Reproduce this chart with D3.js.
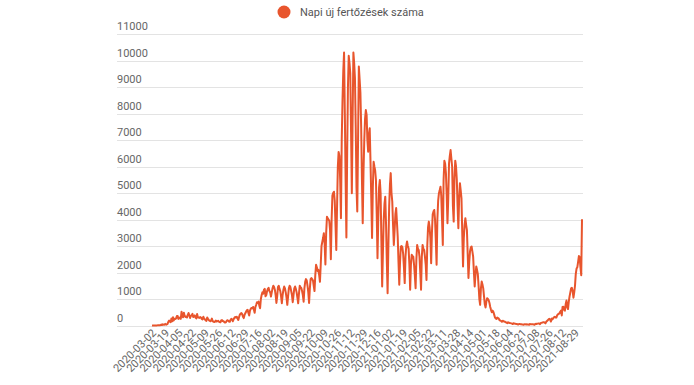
<!DOCTYPE html>
<html><head><meta charset="utf-8">
<script src="https://cdn.jsdelivr.net/npm/d3@7"></script>
<style>
html,body{margin:0;padding:0;background:#fff;}
svg{display:block;font-family:Roboto, "Open Sans", Arial, sans-serif;}
</style></head><body>
<svg id="chart" width="694" height="385"></svg>
<script>
const seriesName = "Napi új fertőzések száma";
const tickLabels = ["2020-03-02","2020-03-19","2020-04-05","2020-04-22","2020-05-09","2020-05-26","2020-06-12","2020-06-29","2020-07-16","2020-08-02","2020-08-19","2020-09-05","2020-09-22","2020-10-09","2020-10-26","2020-11-12","2020-11-29","2020-12-16","2021-01-02","2021-01-19","2021-02-05","2021-02-22","2021-03-11","2021-03-28","2021-04-14","2021-05-01","2021-05-18","2021-06-04","2021-06-21","2021-07-08","2021-07-26","2021-08-12","2021-08-29"];
const tickStep = 17;
const yTicks = [0,1000,2000,3000,4000,5000,6000,7000,8000,9000,10000,11000];
const values = [
3,0,1,2,0,2,3,6,10,11,7,19,33,17,47,26,31,62,31,41,60,
143,186,144,123,263,160,308,192,251,247,269,361,356,
250,300,280,250,520,350,310,480,360,320,330,300,400,470,390,285,370,380,440,320,350,380,300,265,430,315,300,285,320,300,250,230,330,260,235,190,175,300,250,210,180,160,
190,260,160,150,130,145,185,150,160,180,145,130,120,190,205,170,160,130,110,120,175,200,180,150,140,
215,250,230,160,240,290,320,300,330,260,210,320,410,450,470,430,330,280,400,460,520,580,590,470,380,560,630,660,650,700,600,480,700,780,880,850,900,750,650,1000,1150,1250,1200,1350,1380,1100,
1150,1300,1380,1420,1300,1250,1090,
1250,1400,1500,1450,1350,1150,850,
1100,1450,1500,1380,1300,1100,840,
1150,1350,1470,1400,1250,1050,780,
1100,1400,1500,1450,1300,1150,880,
1150,1400,1470,1380,1250,1050,840,
1200,1500,1450,1420,1300,1150,900,
1400,1650,1750,1700,1500,1250,850,
1400,1750,1790,1750,1700,1500,1300,
1900,2290,2200,2050,2100,1900,1650,
2300,3000,3150,3300,3480,3100,2300,
3500,4100,4050,4000,3950,3600,2500,
4000,4900,5000,5050,4700,3800,2850,
4500,6000,6550,6400,5500,4050,
7000,8500,9600,10300,8000,5500,3320,
6500,9000,10180,9900,9520,7300,4990,
7800,10300,9900,9330,7500,5200,4300,
7000,9770,9300,8800,7500,5500,3860,
5800,7000,7800,8130,7950,7000,6560,7200,7440,6200,4800,3300,
5200,6180,6000,5850,5500,4200,2540,
4000,5200,5490,5000,3200,1470,
2800,4000,4600,4860,3800,2400,1220,
3000,4500,5300,5750,5000,4680,3800,3040,
3600,4200,4430,3900,3360,2400,1535,
2400,2980,3000,2950,2700,2200,1600,
2600,3000,3170,3000,2900,2300,1350,
2300,2670,2600,2600,2300,1900,1410,
2500,3040,2900,2850,2600,2000,1350,
2600,3040,2900,2850,2600,2300,1720,
3000,3700,3920,3700,3300,2350,
3500,4200,4300,4360,4000,3200,2290,
4000,4700,4990,5100,5240,4900,4000,3040,
5500,6220,6100,5750,4900,3860,
4800,6120,6400,6620,6300,6000,4500,3920,
5600,6220,6000,5500,4500,3670,
4800,5370,5100,4800,3500,2225,
3300,3800,4050,3800,3600,2700,1790,
2400,2800,2950,2980,2800,2600,2000,1470,
1900,2225,2100,1950,1500,1000,780,
1400,1660,1550,1400,1100,800,680,
900,1030,1000,950,850,700,590,
500,560,520,420,310,260,250,
300,280,260,200,190,170,140,
180,165,150,140,120,110,90,
120,100,95,90,80,70,55,
85,75,70,60,55,45,35,
60,55,50,45,40,35,25,
50,45,40,45,40,35,25,
55,50,45,50,45,40,30,
60,65,60,70,80,75,50,
95,100,110,120,125,110,80,
140,170,200,230,250,220,150,
260,230,280,310,330,300,300,
380,420,440,460,520,560,380,
700,710,600,560,800,940,690,
620,900,1100,1250,1400,1420,1300,1050,
1250,1500,1950,2150,2200,2400,2620,2580,2200,1900,4010
];

const svg = d3.select("#chart");
const W = 694, H = 385;
const plotLeft = 152, plotRight = 582, gridLeft = 117, gridRight = 583;
const yTop = 34, yBottom = 325.5;

const x = d3.scaleLinear().domain([0, values.length - 1]).range([plotLeft, plotRight]);
const y = d3.scaleLinear().domain([0, 11000]).range([yBottom, yTop]);

// grid
const grid = svg.append("g");
grid.selectAll("line").data(yTicks).join("line")
  .attr("x1", gridLeft).attr("x2", gridRight)
  .attr("y1", d => Math.round(y(d)) + 0.5).attr("y2", d => Math.round(y(d)) + 0.5)
  .attr("stroke", "#e3e3e3").attr("stroke-width", 1);

// y labels
svg.append("g").selectAll("text").data(yTicks).join("text")
  .attr("x", gridLeft).attr("y", d => Math.round(y(d)) - 4)
  .attr("font-size", 11).attr("fill", "#666")
  .text(d => d);

// x labels
svg.append("g").selectAll("text").data(tickLabels).join("text")
  .attr("text-anchor", "end")
  .attr("font-size", 11).attr("fill", "#666")
  .attr("transform", (d, k) => `translate(${x(k * tickStep) + 5},${yBottom + 8}) rotate(-45)`)
  .text(d => d);

// line
const line = d3.line().x((d, i) => x(i)).y(d => y(d));
svg.append("path").datum(values)
  .attr("fill", "none").attr("stroke", "#e8552d").attr("stroke-width", 2)
  .attr("stroke-linejoin", "round").attr("d", line);

// legend
const lg = svg.append("g");
lg.append("circle").attr("cx", 284).attr("cy", 12).attr("r", 6.5).attr("fill", "#e8552d");
lg.append("text").attr("x", 300).attr("y", 16).attr("font-size", 11).attr("fill", "#555").text(seriesName);
</script>
</body></html>
